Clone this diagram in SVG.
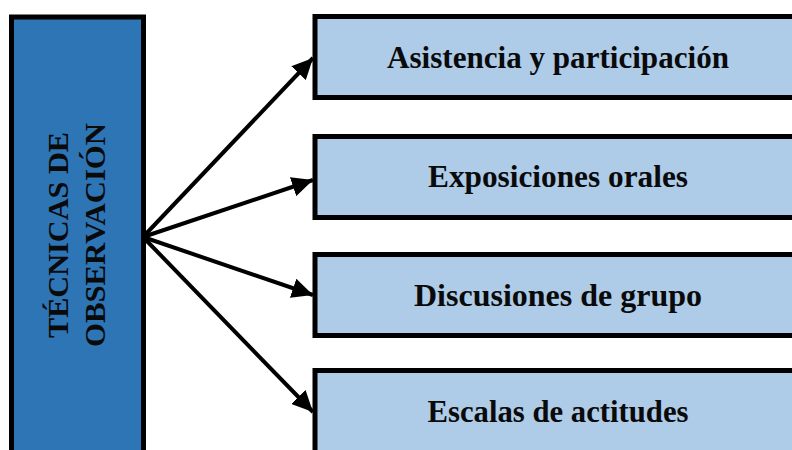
<svg xmlns="http://www.w3.org/2000/svg" width="792" height="450" viewBox="0 0 792 450">
<defs>
<style>
.main{fill:#2E75B6;stroke:#000;stroke-width:5}
.item{fill:#AECBE8;stroke:#000;stroke-width:5}
.lbl{font-family:"Liberation Serif","Times New Roman",serif;font-weight:bold;font-size:31px;fill:#0a0a0a;text-anchor:middle}
.conn{stroke:#000;stroke-width:4;fill:none}
</style>
<marker id="ah" markerUnits="userSpaceOnUse" markerWidth="22" markerHeight="20" refX="21" refY="10" orient="auto">
<path d="M0,0 L21,10 L0,20 Z" fill="#000"/>
</marker>
</defs>
<rect width="792" height="450" fill="#fff"/>
<g id="tecnicas">
<rect class="main" x="11.5" y="17" width="132" height="450"/>
<text class="lbl" style="font-size:30px" transform="translate(68,235) rotate(-90)" textLength="206" lengthAdjust="spacingAndGlyphs">TÉCNICAS DE</text>
<text class="lbl" style="font-size:30px" transform="translate(105,235) rotate(-90)" textLength="224" lengthAdjust="spacingAndGlyphs">OBSERVACIÓN</text>
</g>
<g id="connectors">
<line class="conn" x1="143" y1="237" x2="313" y2="58" marker-end="url(#ah)"/>
<line class="conn" x1="143" y1="237" x2="313" y2="180" marker-end="url(#ah)"/>
<line class="conn" x1="143" y1="237" x2="313" y2="295" marker-end="url(#ah)"/>
<line class="conn" x1="143" y1="237" x2="313" y2="412" marker-end="url(#ah)"/>
</g>
<g id="asistencia">
<rect class="item" x="315" y="16.5" width="490" height="81"/>
<text class="lbl" x="558" y="68" textLength="342" lengthAdjust="spacingAndGlyphs">Asistencia y participación</text>
</g>
<g id="exposiciones">
<rect class="item" x="315" y="136.5" width="490" height="81"/>
<text class="lbl" x="558" y="187" textLength="260" lengthAdjust="spacingAndGlyphs">Exposiciones orales</text>
</g>
<g id="discusiones">
<rect class="item" x="315" y="254.5" width="490" height="81"/>
<text class="lbl" x="558" y="306" textLength="288" lengthAdjust="spacingAndGlyphs">Discusiones de grupo</text>
</g>
<g id="escalas">
<rect class="item" x="315" y="370.5" width="490" height="100"/>
<text class="lbl" x="558" y="422" textLength="261" lengthAdjust="spacingAndGlyphs">Escalas de actitudes</text>
</g>
</svg>
